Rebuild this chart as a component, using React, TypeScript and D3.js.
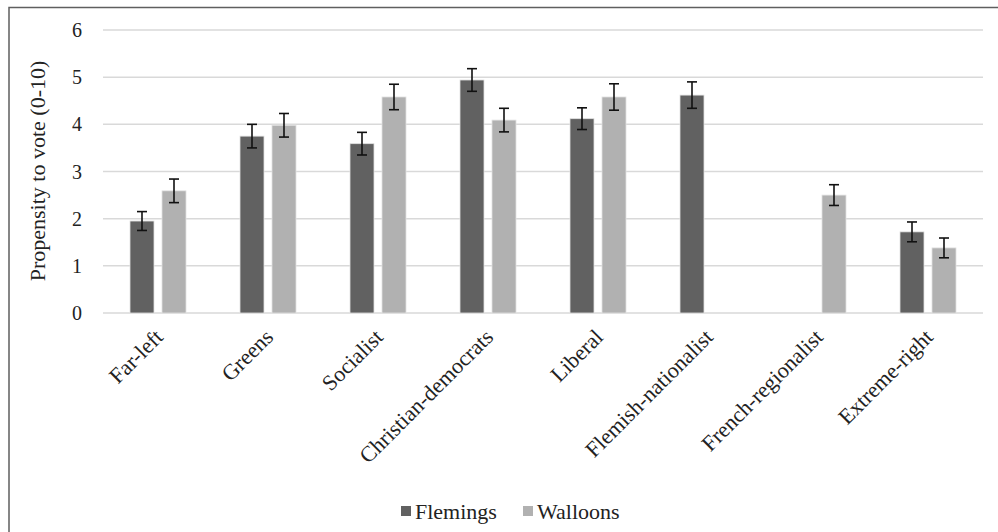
import { scaleBand, scaleLinear } from "d3";

const categories = [
  "Far-left",
  "Greens",
  "Socialist",
  "Christian-democrats",
  "Liberal",
  "Flemish-nationalist",
  "French-regionalist",
  "Extreme-right",
];
const series = ["Flemings", "Walloons"];
// null = party not present in that region
const flemings = [1.95, 3.75, 3.59, 4.94, 4.12, 4.62, null, 1.72];
const flemingsErr = [0.2, 0.25, 0.24, 0.24, 0.23, 0.28, null, 0.21];
const walloons = [2.59, 3.98, 4.58, 4.09, 4.58, null, 2.5, 1.38];
const walloonsErr = [0.25, 0.25, 0.27, 0.25, 0.28, null, 0.22, 0.21];
const yTicks = [0, 1, 2, 3, 4, 5, 6];

const colors = ["#616161", "#b1b1b1"];
const font = "Liberation Serif";

export default function App() {
  const width = 998,
    height = 532;
  const left = 103,
    right = 983,
    top = 30,
    bottom = 313;

  const x = scaleBand<string>().domain(categories).range([left, right]);
  const x1 = scaleBand<string>()
    .domain(series)
    .range([0, 56])
    .paddingInner(0.25);
  const y = scaleLinear().domain([0, 6]).range([bottom, top]);

  const data = [
    { name: series[0], values: flemings, errs: flemingsErr, color: colors[0] },
    { name: series[1], values: walloons, errs: walloonsErr, color: colors[1] },
  ];

  return (
    <svg
      width={width}
      height={height}
      style={{ position: "absolute", left: 0, top: 0, background: "#fff", fontFamily: font }}
    >
      {/* frame, cut off on the right and bottom like the source */}
      <rect x={9} y={7.5} width={1000} height={540} fill="#fff" stroke="#5f5f5f" strokeWidth={1.5} />

      {/* grid */}
      {yTicks.map((t) => (
        <g key={t}>
          <line x1={left} x2={right} y1={y(t)} y2={y(t)} stroke="#d9d9d9" strokeWidth={1.5} />
          <text x={82} y={y(t)} dy="0.35em" textAnchor="end" fontSize={20} fill="#222" fontFamily={font}>
            {t}
          </text>
        </g>
      ))}

      <text
        transform={`translate(45,171) rotate(-90)`}
        textAnchor="middle"
        fontSize={22}
        fill="#222"
        fontFamily={font}
      >
        Propensity to vote (0-10)
      </text>

      {/* bars */}
      {categories.map((c, i) => {
        const x0 = (x(c) ?? 0) + x.bandwidth() / 2 - 28;
        return (
          <g key={c}>
            {data.map((s) => {
              const v = s.values[i];
              const e = s.errs[i];
              if (v == null || e == null) return null;
              const bx = x0 + (x1(s.name) ?? 0);
              const cx = bx + x1.bandwidth() / 2;
              return (
                <g key={s.name}>
                  <rect
                    x={bx}
                    y={y(v)}
                    width={x1.bandwidth()}
                    height={y(0) - y(v)}
                    fill={s.color}
                    stroke="#e2e2e2"
                    strokeWidth={0.8}
                  />
                  <g stroke="#111" strokeWidth={1.6}>
                    <line x1={cx} x2={cx} y1={y(v + e)} y2={y(v - e)} />
                    <line x1={cx - 5} x2={cx + 5} y1={y(v + e)} y2={y(v + e)} />
                    <line x1={cx - 5} x2={cx + 5} y1={y(v - e)} y2={y(v - e)} />
                  </g>
                </g>
              );
            })}
            <text
              transform={`translate(${(x(c) ?? 0) + x.bandwidth() / 2 + 1},${bottom + 20}) rotate(-45)`}
              textAnchor="end"
              dy="0.35em"
              fontSize={22}
              fill="#222"
              fontFamily={font}
            >
              {c}
            </text>
          </g>
        );
      })}

      {/* legend */}
      <g fontSize={22} fill="#222">
        <rect x={401} y={506} width={10} height={10} fill={colors[0]} />
        <text x={415} y={511} dy="0.35em" fontFamily={font}>
          {series[0]}
        </text>
        <rect x={523} y={506} width={10} height={10} fill={colors[1]} />
        <text x={537} y={511} dy="0.35em" fontFamily={font}>
          {series[1]}
        </text>
      </g>
    </svg>
  );
}
